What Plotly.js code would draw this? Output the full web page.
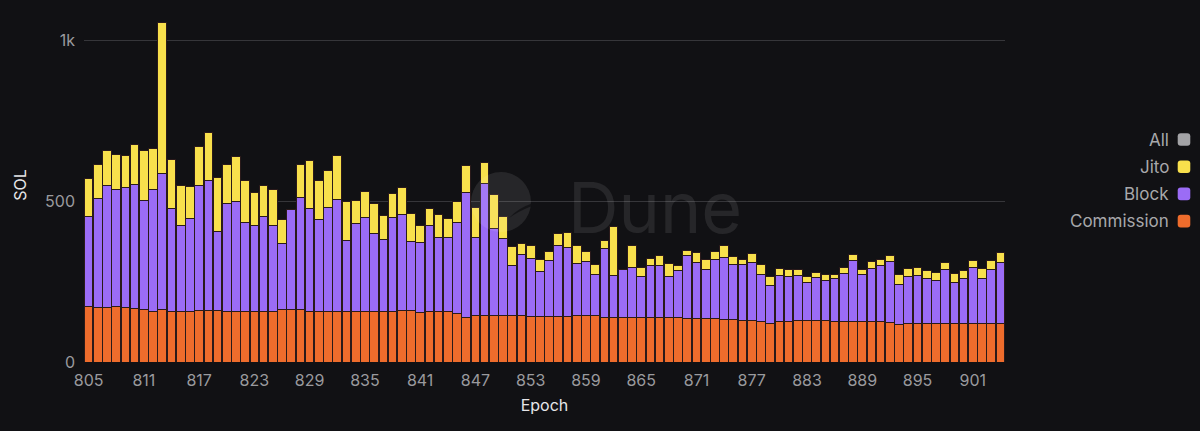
<!DOCTYPE html>
<html>
<head>
<meta charset="utf-8">
<script src="https://cdn.plot.ly/plotly-3.0.1.min.js"></script>
<style>
html,body{margin:0;padding:0;background:#111114;}
#chart{width:1200px;height:431px;}
</style>
</head>
<body>
<div id="chart"></div>
<script>
// Epochs 805 .. 904
const epochs = [805,806,807,808,809,810,811,812,813,814,815,816,817,818,819,820,821,822,823,824,825,826,827,828,829,830,831,832,833,834,835,836,837,838,839,840,841,842,843,844,845,846,847,848,849,850,851,852,853,854,855,856,857,858,859,860,861,862,863,864,865,866,867,868,869,870,871,872,873,874,875,876,877,878,879,880,881,882,883,884,885,886,887,888,889,890,891,892,893,894,895,896,897,898,899,900,901,902,903,904];

const commission = [171,169,169,171,170,166,163,158,162,158,158,158,160,159,159,156,156,156,158,158,158,164,163,163,157,157,157,157,157,157,157,157,157,157,159,160,155,158,157,156,150,139,144,145,145,145,144,143,141,142,142,142,142,143,143,144,137,137,137,137,137,138,138,138,137,136,136,135,134,132,132,130,128,125,120,126,127,129,129,129,128,127,127,127,127,127,127,123,115,121,121,119,119,119,119,119,119,119,119,119];

const block = [281,338,378,366,372,386,340,378,425,320,267,288,387,405,245,338,344,276,267,293,266,203,310,348,321,286,324,348,222,272,293,243,225,293,299,216,216,266,230,232,282,388,243,411,269,238,155,190,181,140,173,219,214,164,169,127,216,133,151,158,128,163,161,127,147,194,173,151,186,192,170,173,181,147,119,144,138,139,117,133,124,131,149,187,145,162,172,189,125,146,149,139,134,168,128,142,174,139,167,191];

const jito = [119,107,110,109,101,124,154,127,467,150,125,100,122,149,170,120,139,132,103,97,111,76,2,103,147,122,114,137,121,74,81,93,74,74,85,85,54,54,72,57,67,83,94,64,106,68,60,36,41,35,29,37,46,54,30,32,25,152,0,67,30,21,31,40,17,18,31,31,24,37,25,17,27,30,26,21,23,20,20,16,21,13,17,20,16,24,19,19,32,24,24,27,26,23,28,24,23,32,28,30];

const xTickVals = [805,811,817,823,829,835,841,847,853,859,865,871,877,883,889,895,901];
const yTickVals = [0,500,1000];
const yTickText = ['0','500','1k'];

const legendLabels = ['All','Jito','Block','Commission'];
const legendColors = ['#a3a3a6','#f8e04c','#9b6cf6','#ee6c2c'];

const COL_COMM = '#ee6c2c', COL_BLOCK = '#9b6cf6', COL_JITO = '#f8e04c';
const GAPLINE = {color:'#2a1a1a', width:1};

const traces = [
  {type:'bar', name:'Commission', x:epochs, y:commission, marker:{color:COL_COMM, line:GAPLINE}, showlegend:false},
  {type:'bar', name:'Block', x:epochs, y:block, marker:{color:COL_BLOCK, line:GAPLINE}, showlegend:false},
  {type:'bar', name:'Jito', x:epochs, y:jito, marker:{color:COL_JITO, line:GAPLINE}, showlegend:false}
];

const W = 1200, H = 431;
const L = 84, R = 195, T = 8, B = 69;
const pw = W - L - R, ph = H - T - B;
const px = v => (v - L) / pw;
const py = v => (H - B - v) / ph;

const annotations = [];
const shapes = [];

// legend (labels left of rounded markers)
legendLabels.forEach((lab, i) => {
  const cy = 139.5 + i * 27.2;
  annotations.push({
    xref:'paper', yref:'paper', x:px(1171), y:py(cy),
    xanchor:'right', yanchor:'middle', showarrow:false,
    text:lab, font:{family:'Inter, sans-serif', size:17, color:'#a8a8ab'}
  });
  const s = 6.3, r = 3;
  shapes.push({
    type:'path', xref:'paper', yref:'paper',
    xsizemode:'pixel', ysizemode:'pixel',
    xanchor:px(1184), yanchor:py(cy),
    path:`M ${-s+r} ${-s} L ${s-r} ${-s} Q ${s} ${-s} ${s} ${-s+r} L ${s} ${s-r} Q ${s} ${s} ${s-r} ${s} L ${-s+r} ${s} Q ${-s} ${s} ${-s} ${s-r} L ${-s} ${-s+r} Q ${-s} ${-s} ${-s+r} ${-s} Z`,
    fillcolor:legendColors[i], line:{width:0}, layer:'above'
  });
});

// Dune watermark
annotations.push({
  xref:'paper', yref:'paper', x:px(655), y:py(207),
  xanchor:'center', yanchor:'middle', showarrow:false,
  text:'Dune', font:{family:'Inter, sans-serif', size:70, color:'rgba(255,255,255,0.09)'}
});
shapes.push({
  type:'circle', xref:'paper', yref:'paper',
  xsizemode:'pixel', ysizemode:'pixel',
  xanchor:px(501), yanchor:py(202),
  x0:-30, x1:30, y0:-30, y1:30,
  fillcolor:'rgba(255,255,255,0.09)', line:{width:0}, layer:'above'
});
shapes.push({
  type:'path', xref:'paper', yref:'paper',
  xsizemode:'pixel', ysizemode:'pixel',
  xanchor:px(501), yanchor:py(202),
  path:'M 8 -16 Q 18 -9 31 -4 L 31 -1.5 Q 17 -6 8 -16 Z',
  fillcolor:'rgba(17,17,20,0.8)', line:{width:0}, layer:'above'
});

const layout = {
  width:W, height:H,
  margin:{l:L, r:R, t:T, b:B},
  paper_bgcolor:'#111114', plot_bgcolor:'#111114',
  barmode:'stack', bargap:0.06,
  font:{family:'Inter, sans-serif', color:'#9a9a9e'},
  xaxis:{
    range:[804.5, 904.5],
    tickvals:xTickVals, ticktext:xTickVals.map(String),
    tickfont:{size:16, color:'#9a9a9e'},
    showgrid:false, zeroline:false, showline:false, ticks:'',
    ticklabelstandoff:7,
    title:{text:'Epoch', font:{size:16, color:'#e6e6e8'}, standoff:10}
  },
  yaxis:{
    range:[0, 1100],
    tickvals:yTickVals, ticktext:yTickText,
    tickfont:{size:16, color:'#9a9a9e'},
    showgrid:true, gridcolor:'#36363a', gridwidth:1,
    zeroline:false, showline:false, ticks:'',
    ticklabelstandoff:8,
    title:{text:'SOL', font:{size:16, color:'#e6e6e8'}, standoff:14}
  },
  annotations:annotations,
  shapes:shapes,
  showlegend:false
};

Plotly.newPlot('chart', traces, layout, {displayModeBar:false, staticPlot:true});
</script>
</body>
</html>
